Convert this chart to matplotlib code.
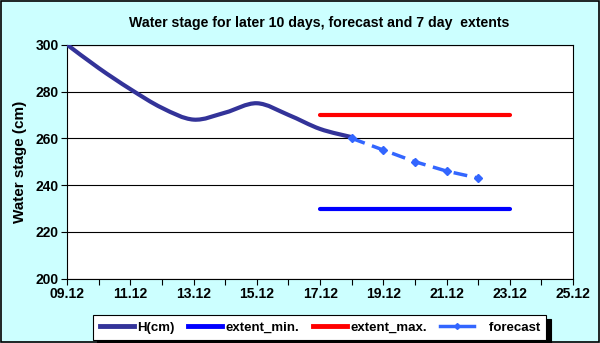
import numpy as np
import matplotlib
matplotlib.use("Agg")
import matplotlib.pyplot as plt
from matplotlib.path import Path
from matplotlib.patches import PathPatch, Rectangle
from matplotlib.lines import Line2D

plt.rcParams['font.family'] = ['Liberation Sans', 'DejaVu Sans']

# December days
h_days = [9, 10, 11, 12, 13, 14, 15, 16, 17, 18]
h_values = [300, 290, 281, 273, 268, 271, 275, 270, 264, 260.5]

forecast_days = [18, 19, 20, 21, 22]
forecast_values = [260, 255, 250, 246, 243]

extent_days = [17, 23]
extent_min = [230, 230]
extent_max = [270, 270]

tick_days = list(range(9, 26, 2))
tick_labels = ["%02d.12" % d for d in tick_days]


def smooth_path(xs, ys):
    # Excel-style smoothed line: Bezier segments with Catmull-Rom control points
    pts = np.column_stack([xs, ys]).astype(float)
    verts = [pts[0]]
    codes = [Path.MOVETO]
    n = len(pts)
    for i in range(n - 1):
        p0 = pts[i - 1] if i > 0 else pts[i]
        p1 = pts[i]
        p2 = pts[i + 1]
        p3 = pts[i + 2] if i + 2 < n else pts[i + 1]
        verts += [p1 + (p2 - p0) / 6, p2 - (p3 - p1) / 6, p2]
        codes += [Path.CURVE4] * 3
    return Path(verts, codes)


fig = plt.figure(figsize=(6, 3.43), dpi=100)
fig.patch.set_facecolor('#CCFFFF')
fig.patches.append(Rectangle((0.002, 0.003), 0.996, 0.994, transform=fig.transFigure,
                             fill=False, edgecolor='black', linewidth=1.2))

ax = fig.add_axes([0.112, 0.1875, 0.843, 0.682])
ax.set_facecolor('white')

h_color = '#333399'
ax.add_patch(PathPatch(smooth_path(h_days, h_values), fill=False,
                       edgecolor=h_color, linewidth=3, capstyle='round', zorder=3))
ax.plot(extent_days, extent_min, color='#0000FF', lw=3, solid_capstyle='round', zorder=3)
ax.plot(extent_days, extent_max, color='#FF0000', lw=3, solid_capstyle='round', zorder=3)
ax.plot(forecast_days, forecast_values, color='#3366FF', lw=2.5, ls=(0, (4, 2.2)),
        marker='D', ms=4, zorder=4)

ax.set_xlim(9, 25)
ax.set_ylim(200, 300)
ax.set_xticks(tick_days)
ax.set_xticklabels(tick_labels, fontsize=10, fontweight='bold')
ax.set_xticks(range(9, 26), minor=True)
ax.set_yticks(range(200, 301, 20))
ax.set_yticklabels([str(v) for v in range(200, 301, 20)], fontsize=10, fontweight='bold')
ax.tick_params(axis='both', which='both', direction='out', length=4, width=0.8, pad=2)
ax.grid(axis='y', color='black', linewidth=0.8)
ax.set_axisbelow(True)
for s in ax.spines.values():
    s.set_linewidth(0.8)

ax.set_ylabel('Water stage (cm)', fontsize=11, fontweight='bold', labelpad=6)
fig.text(0.532, 0.932, 'Water stage for later 10 days, forecast and 7 day  extents',
         ha='center', va='center', fontsize=10.2, fontweight='bold')

handles = [
    Line2D([], [], color=h_color, lw=3.5),
    Line2D([], [], color='#0000FF', lw=3.5),
    Line2D([], [], color='#FF0000', lw=3.5),
    Line2D([], [], color='#3366FF', lw=2.5, marker='D', ms=3),
]
labels = ['H(cm)', 'extent_min.', 'extent_max.', '   forecast']
leg = fig.legend(handles, labels, loc='center', bbox_to_anchor=(0.533, 0.0445), ncol=4,
                 frameon=True, fancybox=False,
                 shadow={'color': 'black', 'alpha': 1, 'ox': 3, 'oy': -3},
                 edgecolor='black',
                 prop={'size': 9.5, 'weight': 'bold'}, handlelength=2.6,
                 handletextpad=0.25, columnspacing=1.0, borderpad=0.5)
leg.get_frame().set_linewidth(0.8)

fig.savefig('out.png', dpi=100, facecolor=fig.get_facecolor())
